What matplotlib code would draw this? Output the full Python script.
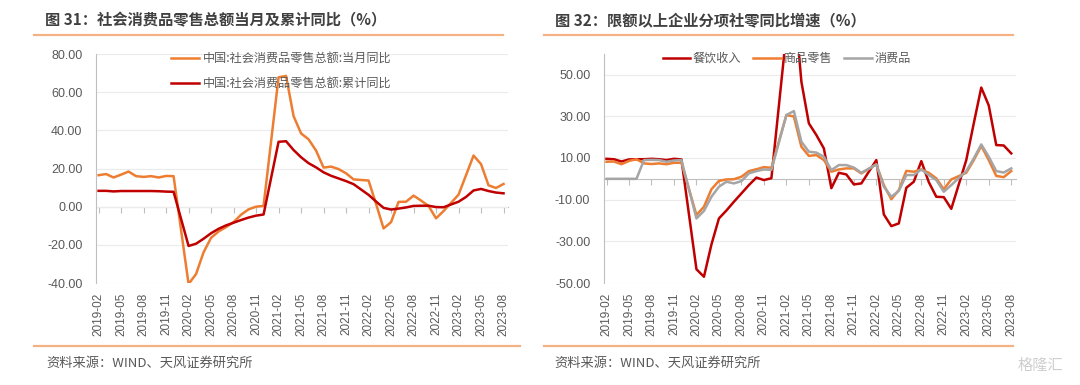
import numpy as np
import pandas as pd
import matplotlib
matplotlib.use("Agg")
import matplotlib.pyplot as plt
from matplotlib.lines import Line2D

plt.rcParams['font.family'] = ['Noto Sans CJK SC', 'DejaVu Sans']
plt.rcParams['axes.unicode_minus'] = False

# monthly categories 2019-02 .. 2023-08 (January values are not published -> nan)
months = [p.strftime('%Y-%m') for p in pd.period_range('2019-02', '2023-08', freq='M')]
nan = np.nan

# chart 31: total retail sales of consumer goods, yoy (%)
retail_month = [16.5, 17.1, 15.3, 16.8, 18.4, 16.0, 15.6, 16.0, 15.3, 16.1, 16.0,
                nan, -40.5, -35.3, -23.9, -16.3, -13.0, -10.7, -8.1, -4.2, -1.4, 0.0, 0.4,
                nan, 67.8, 68.5, 47.5, 38.4, 35.3, 29.4, 20.5, 21.0, 19.7, 17.5, 14.3,
                nan, 13.7, 1.5, -11.4, -8.1, 2.5, 2.6, 5.8, 3.2, 0.4, -6.1, -2.3,
                nan, 6.3, 16.5, 26.8, 22.3, 11.2, 9.8, 11.9]
retail_cum = [8.3, 8.3, 8.0, 8.2, 8.2, 8.2, 8.2, 8.2, 8.1, 7.9, 7.8,
              nan, -20.6, -19.4, -16.8, -13.9, -11.6, -9.8, -8.4, -7.0, -5.7, -4.7, -4.1,
              nan, 34.0, 34.3, 29.7, 25.9, 22.8, 20.6, 18.0, 16.2, 14.8, 13.4, 11.8,
              nan, 6.2, 2.7, -0.6, -1.5, -1.0, -0.4, 0.4, 0.5, 0.5, -0.2, -0.3,
              nan, 2.6, 5.1, 8.5, 9.3, 8.2, 7.4, 7.0]

# chart 32: above-quota enterprises, yoy (%)
catering = [9.6, 9.4, 8.3, 9.3, 9.4, 9.4, 9.6, 9.4, 9.0, 9.6, 9.3,
            nan, -43.4, -47.0, -31.5, -19.0, -15.2, -11.0, -7.0, -3.0, 0.6, -0.6, 0.3,
            nan, 70.0, 88.0, 46.6, 26.6, 21.0, 14.6, -4.5, 2.9, 2.1, -2.7, -2.2,
            nan, 9.0, -17.1, -22.7, -21.4, -4.3, -1.4, 8.5, -1.6, -8.6, -8.8, -14.4,
            nan, 9.0, 26.6, 43.8, 35.2, 16.2, 16.0, 12.2]
goods = [8.2, 8.3, 7.0, 8.6, 9.4, 7.4, 7.1, 7.4, 7.0, 7.7, 7.7,
         nan, -17.4, -13.4, -5.0, -1.0, -0.3, -0.2, 1.0, 3.7, 4.6, 5.6, 5.3,
         nan, 30.6, 29.9, 15.4, 11.0, 11.4, 9.0, 3.4, 4.5, 5.0, 5.0, 2.6,
         nan, 6.9, -3.0, -9.8, -5.4, 3.8, 3.4, 4.5, 2.9, 0.2, -5.0, -0.3,
         nan, 2.9, 9.0, 15.8, 9.0, 1.4, 0.8, 3.7]
consumer = [0.0, 0.0, 0.0, 0.0, 0.0, 9.0, 9.1, 9.0, 8.2, 8.8, 9.0,
            nan, -19.0, -15.4, -8.6, -3.8, -1.4, -2.2, -1.1, 2.6, 3.7, 4.5, 4.3,
            nan, 30.6, 32.5, 17.8, 13.0, 12.6, 10.6, 4.2, 6.6, 6.6, 5.4, 2.9,
            nan, 6.9, -3.8, -8.6, -5.8, 1.8, 1.8, 4.5, 1.8, -0.6, -6.2, -3.0,
            nan, 3.7, 9.8, 16.5, 10.6, 3.7, 3.0, 5.0]

ORANGE = '#ED7D31'
RED = '#C00000'
GRAY = '#A5A5A5'
TXT = '#595959'
GRID = '#EBEBEB'
LINE_OR = '#F4B183'
NUMFONT = ['Liberation Sans', 'DejaVu Sans']


def draw(ax, series, ylim, yticks):
    x = np.arange(len(months))
    for vals, color, label in series:
        s = pd.Series(vals, index=x).dropna()
        ax.plot(s.index, s.values, color=color, lw=1.8, label=label,
                solid_joinstyle='round', zorder=3)
    ax.set_xlim(-0.3, 54.6)
    ax.set_ylim(*ylim)
    ax.set_yticks(yticks)
    ax.set_yticklabels(['%.2f' % v for v in yticks], color=TXT, fontsize=9,
                       family=NUMFONT)
    ax.yaxis.grid(True, color=GRID, lw=0.8)
    ax.set_axisbelow(True)
    ticks = x[::3]
    ax.set_xticks(ticks)
    ax.set_xticklabels([months[i] for i in ticks], rotation=90,
                       color=TXT, fontsize=8.5, family=NUMFONT)
    ax.tick_params(axis='x', length=0, pad=7)
    ax.tick_params(axis='y', length=0, pad=10)
    for side in ['top', 'right', 'bottom']:
        ax.spines[side].set_visible(False)
    ax.spines['left'].set_color('#BFBFBF')
    # category axis crossing at zero
    loc = (0 - ylim[0]) / (ylim[1] - ylim[0])
    sec = ax.secondary_xaxis(loc)
    sec.set_xticks(ticks)
    sec.set_xticklabels([])
    sec.tick_params(axis='x', direction='out', length=4, color='#BFBFBF')
    sec.spines['bottom'].set_color('#BFBFBF')


fig = plt.figure(figsize=(10.8, 3.85), dpi=100)

ax1 = fig.add_axes([0.0892, 0.2649, 0.3812, 0.5948])
draw(ax1, [(retail_month, ORANGE, '中国:社会消费品零售总额:当月同比'),
           (retail_cum, RED, '中国:社会消费品零售总额:累计同比')],
     (-40, 80), [-40, -20, 0, 20, 40, 60, 80])
ax1.legend(loc='upper left', bbox_to_anchor=(0.17, 1.03), frameon=False,
           fontsize=8.7, labelcolor=TXT, handlelength=2.3, handletextpad=0.3,
           labelspacing=1.0, borderaxespad=0)

ax2 = fig.add_axes([0.5595, 0.2649, 0.3810, 0.5954])
draw(ax2, [(catering, RED, '餐饮收入'),
           (goods, ORANGE, '商品零售'),
           (consumer, GRAY, '消费品')],
     (-50, 60), [-50, -30, -10, 10, 30, 50])
ax2.legend(loc='upper left', bbox_to_anchor=(0.13, 1.03), frameon=False,
           fontsize=8.7, labelcolor=TXT, ncol=3, handlelength=2.3,
           handletextpad=0.2, columnspacing=1.0, borderaxespad=0)

# titles, rules and source notes
W, H = 1080.0, 385.0
fig.text(45 / W, 1 - 20 / H, '图 31：社会消费品零售总额当月及累计同比（%）',
         fontsize=11, fontweight='bold', color='#404040', va='center')
fig.text(555 / W, 1 - 20 / H, '图 32：限额以上企业分项社零同比增速（%）',
         fontsize=11, fontweight='bold', color='#404040', va='center')
for x0, x1, y in [(34, 503, 35), (544, 1013, 35), (34, 520, 346), (544, 1013, 346)]:
    fig.add_artist(Line2D([x0 / W, x1 / W], [1 - y / H, 1 - y / H],
                          transform=fig.transFigure, color=LINE_OR, lw=1.6))
fig.text(46 / W, 1 - 363 / H, '资料来源：WIND、天风证券研究所',
         fontsize=9.5, color=TXT, va='center')
fig.text(554 / W, 1 - 363 / H, '资料来源：WIND、天风证券研究所',
         fontsize=9.5, color=TXT, va='center')
fig.text(1040 / W, 1 - 365 / H, '格隆汇', fontsize=11, color='#CFCFCF',
         va='center', ha='center')

fig.savefig('out.png', dpi=100)
